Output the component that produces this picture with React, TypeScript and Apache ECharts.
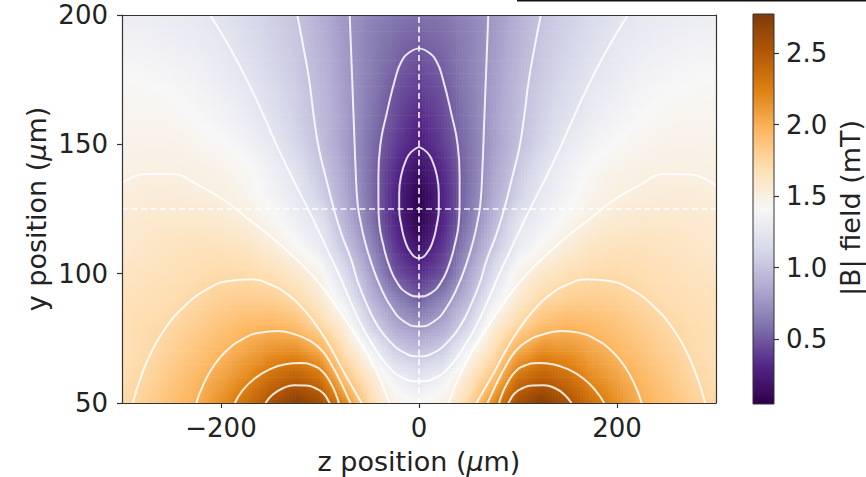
import React, { useEffect, useRef } from "react";
import * as echarts from "echarts";

// ---- grid of |B| values (mT) ----
const zGrid = [-300, -275, -250, -225, -200, -175, -150, -125, -100, -75, -50, -25, 0, 25, 50, 75, 100, 125, 150, 175, 200, 225, 250, 275, 300];
const yGrid = [50, 60, 70, 80, 90, 100, 110, 120, 130, 140, 150, 160, 170, 180, 190, 200];

const bRow050 = [1.73, 1.80, 1.90, 2.00, 2.16, 2.34, 2.55, 2.74, 2.60, 2.19, 1.73, 1.48, 1.42, 1.48, 1.73, 2.19, 2.60, 2.74, 2.55, 2.34, 2.16, 2.00, 1.90, 1.80, 1.73];
const bRow060 = [1.70, 1.75, 1.85, 1.95, 2.06, 2.18, 2.35, 2.45, 2.33, 1.88, 1.60, 1.34, 1.23, 1.34, 1.60, 1.88, 2.33, 2.45, 2.35, 2.18, 2.06, 1.95, 1.85, 1.75, 1.70];
const bRow070 = [1.68, 1.72, 1.79, 1.87, 1.96, 2.05, 2.14, 2.18, 2.03, 1.68, 1.40, 1.08, 0.98, 1.08, 1.40, 1.68, 2.03, 2.18, 2.14, 2.05, 1.96, 1.87, 1.79, 1.72, 1.68];
const bRow080 = [1.68, 1.71, 1.74, 1.81, 1.88, 1.94, 1.97, 1.92, 1.75, 1.53, 1.12, 0.86, 0.76, 0.86, 1.12, 1.53, 1.75, 1.92, 1.97, 1.94, 1.88, 1.81, 1.74, 1.71, 1.68];
const bRow090 = [1.66, 1.68, 1.70, 1.74, 1.79, 1.81, 1.80, 1.74, 1.58, 1.32, 0.95, 0.70, 0.52, 0.70, 0.95, 1.32, 1.58, 1.74, 1.80, 1.81, 1.79, 1.74, 1.70, 1.68, 1.66];
const bRow100 = [1.63, 1.65, 1.67, 1.70, 1.72, 1.72, 1.68, 1.60, 1.47, 1.16, 0.83, 0.48, 0.35, 0.48, 0.83, 1.16, 1.47, 1.60, 1.68, 1.72, 1.72, 1.70, 1.67, 1.65, 1.63];
const bRow110 = [1.58, 1.61, 1.64, 1.66, 1.66, 1.63, 1.55, 1.44, 1.30, 1.02, 0.72, 0.39, 0.20, 0.39, 0.72, 1.02, 1.30, 1.44, 1.55, 1.63, 1.66, 1.66, 1.64, 1.61, 1.58];
const bRow120 = [1.56, 1.58, 1.59, 1.59, 1.57, 1.53, 1.45, 1.34, 1.23, 0.92, 0.63, 0.32, 0.07, 0.32, 0.63, 0.92, 1.23, 1.34, 1.45, 1.53, 1.57, 1.59, 1.59, 1.58, 1.56];
const bRow130 = [1.52, 1.54, 1.54, 1.53, 1.51, 1.46, 1.38, 1.28, 1.09, 0.86, 0.60, 0.31, 0.06, 0.31, 0.60, 0.86, 1.09, 1.28, 1.38, 1.46, 1.51, 1.53, 1.54, 1.54, 1.52];
const bRow140 = [1.49, 1.50, 1.50, 1.49, 1.47, 1.43, 1.35, 1.22, 1.03, 0.83, 0.59, 0.34, 0.16, 0.34, 0.59, 0.83, 1.03, 1.22, 1.35, 1.43, 1.47, 1.49, 1.50, 1.50, 1.49];
const bRow150 = [1.47, 1.47, 1.47, 1.45, 1.42, 1.37, 1.28, 1.13, 0.98, 0.80, 0.60, 0.41, 0.26, 0.41, 0.60, 0.80, 0.98, 1.13, 1.28, 1.37, 1.42, 1.45, 1.47, 1.47, 1.47];
const bRow160 = [1.45, 1.45, 1.44, 1.41, 1.37, 1.31, 1.21, 1.09, 0.96, 0.81, 0.62, 0.45, 0.32, 0.45, 0.62, 0.81, 0.96, 1.09, 1.21, 1.31, 1.37, 1.41, 1.44, 1.45, 1.45];
const bRow170 = [1.43, 1.42, 1.41, 1.38, 1.33, 1.27, 1.17, 1.07, 0.95, 0.80, 0.64, 0.48, 0.39, 0.48, 0.64, 0.80, 0.95, 1.07, 1.17, 1.27, 1.33, 1.38, 1.41, 1.42, 1.43];
const bRow180 = [1.40, 1.39, 1.37, 1.34, 1.29, 1.22, 1.13, 1.04, 0.93, 0.79, 0.66, 0.53, 0.45, 0.53, 0.66, 0.79, 0.93, 1.04, 1.13, 1.22, 1.29, 1.34, 1.37, 1.39, 1.40];
const bRow190 = [1.36, 1.35, 1.33, 1.30, 1.26, 1.18, 1.10, 1.03, 0.91, 0.78, 0.66, 0.57, 0.52, 0.57, 0.66, 0.78, 0.91, 1.03, 1.10, 1.18, 1.26, 1.30, 1.33, 1.35, 1.36];
const bRow200 = [1.32, 1.31, 1.29, 1.27, 1.22, 1.15, 1.08, 1.01, 0.89, 0.77, 0.68, 0.61, 0.58, 0.61, 0.68, 0.77, 0.89, 1.01, 1.08, 1.15, 1.22, 1.27, 1.29, 1.31, 1.32];

const fieldRows = [bRow050, bRow060, bRow070, bRow080, bRow090, bRow100, bRow110, bRow120, bRow130, bRow140, bRow150, bRow160, bRow170, bRow180, bRow190, bRow200];

// ---- contour lines (z, y); levels 0.25 ... 2.5 mT ----
const c025 = [[0, 149], [8, 147], [13, 144], [18, 138], [20, 131], [20, 125], [18, 119], [14, 112.6], [8, 108], [0, 106], [-8, 108], [-14, 112.6], [-18, 119], [-20, 125], [-20, 131], [-18, 138], [-13, 144], [-8, 147], [0, 149]];
const c050 = [[0, 187.2], [10, 185.5], [18, 181.8], [24, 175.4], [33, 161.3], [39, 150], [41, 138], [41, 127], [40, 119], [36, 111], [30, 103], [22, 96.5], [12, 92.5], [0, 91.2], [-12, 92.5], [-22, 96.5], [-30, 103], [-36, 111], [-40, 119], [-41, 127], [-41, 138], [-39, 150], [-33, 161.3], [-24, 175.4], [-18, 181.8], [-10, 185.5], [0, 187.2]];
const c075 = [[-70, 200], [-68, 180], [-66, 160], [-64, 140], [-62, 127], [-59, 120], [-55, 113], [-48, 104], [-39, 95], [-28, 87], [-15, 81.5], [0, 79.6], [15, 81.5], [28, 87], [39, 95], [48, 104], [55, 113], [59, 120], [62, 127], [64, 140], [66, 160], [68, 180], [70, 200]];
const c100 = [[-123, 200], [-117, 188], [-111, 175], [-106, 160], [-101, 148], [-94, 137], [-86, 125], [-78, 115], [-69, 106], [-61, 96], [-51, 86.7], [-42, 80], [-30, 74], [-15, 69.5], [0, 68], [15, 69.5], [30, 74], [42, 80], [51, 86.7], [61, 96], [69, 106], [78, 115], [86, 125], [94, 137], [101, 148], [106, 160], [111, 175], [117, 188], [123, 200]];
const c125 = [[-211, 200], [-192, 188], [-174, 175], [-158, 162], [-143, 149], [-128, 137], [-114, 126.5], [-102, 117], [-91, 108], [-80, 99], [-70, 90], [-58, 80], [-46, 72], [-33, 65], [-18, 60], [0, 58.4], [18, 60], [33, 65], [46, 72], [58, 80], [70, 90], [80, 99], [91, 108], [102, 117], [114, 126.5], [128, 137], [143, 149], [158, 162], [174, 175], [192, 188], [211, 200]];
const c150L = [[-30, 50], [-38, 58], [-48, 66], [-60, 74], [-74, 82], [-90, 91], [-108, 99.5], [-128, 107], [-150, 114.5], [-172, 121], [-195, 128], [-222, 134], [-250, 138.5], [-275, 138.5], [-300, 135]];
const c150R = [[30, 50], [38, 58], [48, 66], [60, 74], [74, 82], [90, 91], [108, 99.5], [128, 107], [150, 114.5], [172, 121], [195, 128], [222, 134], [248, 138.5], [274, 138.3], [300, 134]];
const c175L = [[-289, 50], [-281, 60], [-270, 70], [-256, 79], [-238, 87], [-216, 93.5], [-192, 97.2], [-170, 97.8], [-150, 95.8], [-131, 91.5], [-115, 85.5], [-101, 78.5], [-88, 70.5], [-76, 62], [-64, 54], [-58, 50]];
const c175R = [[289, 50], [281, 60], [270, 70], [256, 79], [238, 87], [216, 93.5], [192, 97.2], [170, 97.8], [150, 95.8], [131, 91.5], [115, 85.5], [101, 78.5], [88, 70.5], [76, 62], [64, 54], [58, 50]];
const c200L = [[-225, 50], [-218, 57], [-208, 64], [-195, 70], [-179, 74.5], [-161, 77.2], [-143, 77.8], [-125, 76.5], [-110, 74], [-98, 70.3], [-88, 64.5], [-79, 58], [-71, 51.5], [-69, 50]];
const c200R = [[225, 50], [218, 57], [208, 64], [195, 70], [179, 74.5], [161, 77.2], [145, 77.8], [125, 76.5], [110, 74], [98, 70.3], [88, 64.5], [79, 58], [71, 51.5], [69, 50]];
const c225L = [[-186, 50], [-178, 55], [-166, 59.5], [-151, 63], [-135, 65], [-120, 65.5], [-107, 64.5], [-97, 62], [-89, 57.5], [-83, 52.5], [-81, 50]];
const c225R = [[187, 50], [178, 55], [166, 59.5], [151, 63], [135, 65], [122, 65.5], [107, 64.5], [97, 62], [89, 57.5], [83, 52.5], [81, 50]];
const c250L = [[-155, 50], [-148, 53.2], [-138, 55.6], [-126, 56.9], [-114, 56.8], [-104, 55.6], [-96, 53.5], [-91, 50.5], [-90, 50]];
const c250R = [[154, 50], [147, 53.2], [138, 55.6], [126, 56.9], [114, 56.8], [104, 55.6], [96, 53.5], [91, 50.5], [90, 50]];

const contourLines = [c025, c050, c075, c100, c125, c150L, c150R, c175L, c175R, c200L, c200R, c225L, c225R, c250L, c250R];

// dashed crosshair through the field minimum
const crossZ = 0;
const crossY = 125;

// ticks
const xTickValues = [-200, 0, 200];
const yTickValues = [50, 100, 150, 200];
const cbarTickValues = [0.5, 1.0, 1.5, 2.0, 2.5];
const cbarRange = [0.045, 2.775];

// PuOr_r colormap
const cmapColors = ["#2d004b", "#542788", "#8073ac", "#b2abd2", "#d8daeb", "#f7f7f7", "#fee0b6", "#fdb863", "#e08214", "#b35806", "#7f3b08"];

const FONT = "DejaVu Sans";

function hexToRgb(h: string) {
  return [parseInt(h.slice(1, 3), 16), parseInt(h.slice(3, 5), 16), parseInt(h.slice(5, 7), 16)];
}
const cmapRgb = cmapColors.map(hexToRgb);
function colorFor(v: number) {
  let t = (v - cbarRange[0]) / (cbarRange[1] - cbarRange[0]);
  t = Math.max(0, Math.min(1, t));
  const p = t * (cmapRgb.length - 1);
  const k = Math.min(Math.floor(p), cmapRgb.length - 2);
  const f = p - k;
  const a = cmapRgb[k];
  const b = cmapRgb[k + 1];
  return (
    "rgb(" +
    Math.round(a[0] + (b[0] - a[0]) * f) + "," +
    Math.round(a[1] + (b[1] - a[1]) * f) + "," +
    Math.round(a[2] + (b[2] - a[2]) * f) + ")"
  );
}

const SUB = 8;

export default function App() {
  const ref = useRef<HTMLDivElement>(null);
  useEffect(() => {
    if (!ref.current) return;
    const chart = echarts.init(ref.current, null, { renderer: "svg" });

    const cells: number[][] = [];
    for (let j = 0; j < yGrid.length - 1; j++) {
      for (let i = 0; i < zGrid.length - 1; i++) {
        cells.push([zGrid[i], yGrid[j], i, j]);
      }
    }

    const axisLineStyle = { color: "#333", width: 1.2 };
    const labelStyle = { fontSize: 26, color: "#222", fontFamily: FONT };

    const contourSeries = contourLines.map((pts) => ({
      type: "line",
      xAxisIndex: 0,
      yAxisIndex: 0,
      data: pts,
      showSymbol: false,
      symbol: "none",
      smooth: 0.5,
      silent: true,
      z: 3,
      lineStyle: { color: "rgba(255,255,255,0.85)", width: 2 },
    }));

    const option: any = {
      animation: false,
      backgroundColor: "#ffffff",
      textStyle: { fontFamily: FONT },
      grid: [
        { left: 122, top: 15, width: 594, height: 388, containLabel: false },
        { left: 753, top: 14, width: 21, height: 390, containLabel: false },
      ],
      xAxis: [
        {
          gridIndex: 0,
          type: "value",
          min: -300,
          max: 300,
          position: "bottom",
          z: 10,
          axisLine: { show: true, onZero: false, lineStyle: axisLineStyle },
          axisTick: { show: true, length: 5, lineStyle: axisLineStyle, customValues: xTickValues },
          axisLabel: {
            ...labelStyle,
            margin: 12,
            customValues: xTickValues,
            formatter: (v: number) => (v < 0 ? "\u2212" + Math.abs(v) : String(v)),
          },
          splitLine: { show: false },
        },
        {
          gridIndex: 0,
          type: "value",
          min: -300,
          max: 300,
          position: "top",
          z: 10,
          axisLine: { show: true, onZero: false, lineStyle: axisLineStyle },
          axisTick: { show: false },
          axisLabel: { show: false },
          splitLine: { show: false },
        },
        { gridIndex: 1, type: "value", min: 0, max: 1, show: false },
      ],
      yAxis: [
        {
          gridIndex: 0,
          type: "value",
          min: 50,
          max: 200,
          interval: 50,
          position: "left",
          z: 10,
          axisLine: { show: true, onZero: false, lineStyle: axisLineStyle },
          axisTick: { show: true, length: 5, lineStyle: axisLineStyle, customValues: yTickValues },
          axisLabel: { ...labelStyle, margin: 14, customValues: yTickValues },
          splitLine: { show: false },
        },
        {
          gridIndex: 0,
          type: "value",
          min: 50,
          max: 200,
          position: "right",
          z: 10,
          axisLine: { show: true, onZero: false, lineStyle: axisLineStyle },
          axisTick: { show: false },
          axisLabel: { show: false },
          splitLine: { show: false },
        },
        {
          gridIndex: 1,
          type: "value",
          min: cbarRange[0],
          max: cbarRange[1],
          position: "right",
          z: 10,
          axisLine: { show: false, onZero: false },
          axisTick: { show: true, length: 5, lineStyle: axisLineStyle, customValues: cbarTickValues },
          axisLabel: {
            ...labelStyle,
            margin: 12,
            customValues: cbarTickValues,
            formatter: (v: number) => v.toFixed(1),
          },
          splitLine: { show: false },
        },
      ],
      series: [
        {
          type: "custom",
          xAxisIndex: 0,
          yAxisIndex: 0,
          data: cells,
          encode: { x: 0, y: 1 },
          clip: true,
          silent: true,
          z: 1,
          renderItem: (params: any, api: any) => {
            const i = api.value(2);
            const j = api.value(3);
            const za = zGrid[i];
            const zb = zGrid[i + 1];
            const ya = yGrid[j];
            const yb = yGrid[j + 1];
            const v00 = fieldRows[j][i];
            const v10 = fieldRows[j][i + 1];
            const v01 = fieldRows[j + 1][i];
            const v11 = fieldRows[j + 1][i + 1];
            const children: any[] = [];
            for (let a = 0; a < SUB; a++) {
              for (let b = 0; b < SUB; b++) {
                const u0 = a / SUB;
                const u1 = (a + 1) / SUB;
                const w0 = b / SUB;
                const w1 = (b + 1) / SUB;
                const uc = (u0 + u1) / 2;
                const wc = (w0 + w1) / 2;
                const v =
                  v00 * (1 - uc) * (1 - wc) +
                  v10 * uc * (1 - wc) +
                  v01 * (1 - uc) * wc +
                  v11 * uc * wc;
                const p0 = api.coord([za + (zb - za) * u0, ya + (yb - ya) * w0]);
                const p1 = api.coord([za + (zb - za) * u1, ya + (yb - ya) * w1]);
                children.push({
                  type: "rect",
                  shape: {
                    x: Math.min(p0[0], p1[0]),
                    y: Math.min(p0[1], p1[1]),
                    width: Math.abs(p1[0] - p0[0]) + 0.6,
                    height: Math.abs(p1[1] - p0[1]) + 0.6,
                  },
                  style: { fill: colorFor(v) },
                  silent: true,
                });
              }
            }
            return { type: "group", children };
          },
        },
        ...contourSeries,
        {
          type: "line",
          xAxisIndex: 0,
          yAxisIndex: 0,
          data: [[crossZ, 50], [crossZ, 200]],
          showSymbol: false,
          symbol: "none",
          silent: true,
          z: 4,
          lineStyle: { color: "rgba(255,255,255,0.92)", width: 1.7, type: [6, 3.5] },
        },
        {
          type: "line",
          xAxisIndex: 0,
          yAxisIndex: 0,
          data: [[-300, crossY], [300, crossY]],
          showSymbol: false,
          symbol: "none",
          silent: true,
          z: 4,
          lineStyle: { color: "rgba(255,255,255,0.92)", width: 1.7, type: [6, 3.5] },
        },
        {
          type: "custom",
          xAxisIndex: 2,
          yAxisIndex: 2,
          data: [[0, cbarRange[0], 1, cbarRange[1]]],
          encode: { x: 0, y: 1 },
          silent: true,
          renderItem: (params: any, api: any) => {
            const p0 = api.coord([api.value(0), api.value(1)]);
            const p1 = api.coord([api.value(2), api.value(3)]);
            const stops = cmapColors.map((c, k) => ({ offset: k / (cmapColors.length - 1), color: c }));
            return {
              type: "rect",
              shape: {
                x: Math.min(p0[0], p1[0]),
                y: Math.min(p0[1], p1[1]),
                width: Math.abs(p1[0] - p0[0]),
                height: Math.abs(p1[1] - p0[1]),
              },
              style: {
                fill: new echarts.graphic.LinearGradient(0, 1, 0, 0, stops),
                stroke: "#333",
                lineWidth: 1,
              },
            };
          },
        },
      ],
      graphic: [
        {
          type: "text",
          x: 419,
          y: 461,
          style: {
            text: "{n|z position (}{i|\u03bc}{n|m)}",
            align: "center",
            verticalAlign: "middle",
            rich: {
              n: { fontSize: 27, fontFamily: FONT, fill: "#222" },
              i: { fontSize: 27, fontFamily: FONT, fontStyle: "italic", fill: "#222" },
            },
          },
        },
        {
          type: "text",
          x: 36,
          y: 209,
          rotation: Math.PI / 2,
          style: {
            text: "{n|y position (}{i|\u03bc}{n|m)}",
            align: "center",
            verticalAlign: "middle",
            rich: {
              n: { fontSize: 27, fontFamily: FONT, fill: "#222" },
              i: { fontSize: 27, fontFamily: FONT, fontStyle: "italic", fill: "#222" },
            },
          },
        },
        {
          type: "text",
          x: 850,
          y: 208,
          rotation: Math.PI / 2,
          style: {
            text: "|B| field (mT)",
            align: "center",
            verticalAlign: "middle",
            fontSize: 27,
            fontFamily: FONT,
            fill: "#222",
          },
        },
        {
          type: "rect",
          shape: { x: 517, y: 0, width: 349, height: 1.5 },
          style: { fill: "#111" },
        },
      ],
    };

    chart.setOption(option);
    return () => chart.dispose();
  }, []);

  return (
    <div
      ref={ref}
      style={{ position: "fixed", left: 0, top: 0, width: 866, height: 477, background: "#fff" }}
    />
  );
}
